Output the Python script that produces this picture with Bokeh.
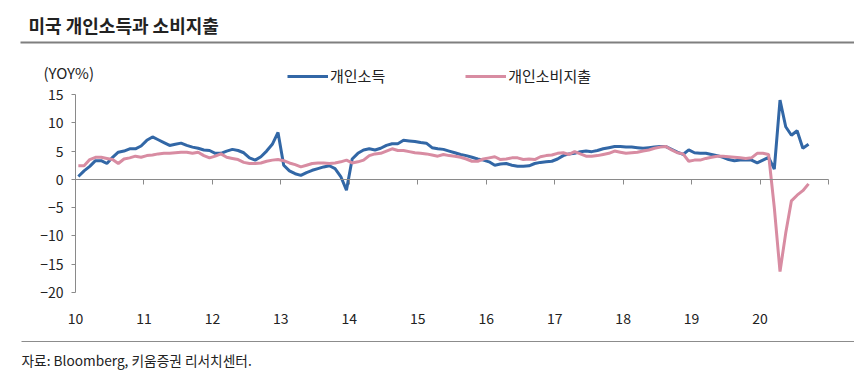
from bokeh.plotting import figure
from bokeh.models import (Range1d, FixedTicker, LinearAxis, Legend, LegendItem,
                          Label, BoxAnnotation)
from bokeh.embed import file_html
from bokeh.resources import INLINE

# ---------------- data (monthly YoY %, Jan 2010 .. Sep 2020) ----------------
start_year = 2010
income = [
    0.5, 1.5, 2.3, 3.3, 3.3, 2.8, 3.9, 4.8, 5.0, 5.4, 5.4, 5.9,      # 2010
    6.9, 7.5, 7.0, 6.5, 6.0, 6.2, 6.4, 6.0, 5.7, 5.5, 5.2, 5.1,      # 2011
    4.6, 4.6, 5.0, 5.3, 5.1, 4.7, 3.8, 3.4, 4.0, 5.0, 6.2, 8.3,      # 2012
    2.5, 1.5, 1.0, 0.7, 1.2, 1.6, 1.9, 2.2, 2.4, 1.9, 0.5, -1.9,     # 2013
    3.6, 4.6, 5.2, 5.4, 5.2, 5.5, 6.0, 6.3, 6.3, 6.9, 6.8, 6.7,      # 2014
    6.5, 6.4, 5.6, 5.4, 5.3, 5.0, 4.7, 4.4, 4.2, 3.9, 3.6, 3.4,      # 2015
    3.1, 2.5, 2.7, 2.8, 2.5, 2.3, 2.3, 2.4, 2.8, 3.0, 3.1, 3.2,      # 2016
    3.6, 4.2, 4.5, 4.6, 4.9, 5.0, 4.9, 5.1, 5.4, 5.6, 5.8, 5.8,      # 2017
    5.7, 5.7, 5.6, 5.5, 5.6, 5.7, 5.8, 5.8, 5.3, 4.8, 4.4, 5.2,      # 2018
    4.7, 4.6, 4.6, 4.4, 4.2, 3.9, 3.5, 3.3, 3.4, 3.4, 3.4, 2.9,      # 2019
    3.4, 3.9, 1.8, 14.0, 9.3, 7.8, 8.6, 5.5, 6.2,                   # 2020
]
spending = [
    2.4, 2.4, 3.5, 3.9, 3.9, 3.7, 3.5, 2.8, 3.6, 3.8, 4.1, 3.9,      # 2010
    4.2, 4.3, 4.5, 4.6, 4.6, 4.7, 4.8, 4.8, 4.6, 4.8, 4.2, 3.8,      # 2011
    4.1, 4.5, 3.9, 3.7, 3.5, 3.0, 2.8, 2.8, 2.9, 3.2, 3.4, 3.5,      # 2012
    3.3, 2.9, 2.6, 2.2, 2.5, 2.8, 2.9, 2.9, 2.8, 2.9, 3.1, 3.4,      # 2013
    2.9, 3.1, 3.4, 4.2, 4.5, 4.6, 5.0, 5.4, 5.1, 5.1, 4.9, 4.7,      # 2014
    4.6, 4.5, 4.3, 4.1, 4.4, 4.2, 4.1, 3.9, 3.6, 3.2, 3.2, 3.6,      # 2015
    3.8, 4.0, 3.5, 3.6, 3.8, 3.8, 3.5, 3.6, 3.5, 4.0, 4.2, 4.3,      # 2016
    4.6, 4.7, 4.4, 4.9, 4.5, 4.1, 4.1, 4.2, 4.4, 4.6, 5.0, 4.8,      # 2017
    4.6, 4.7, 4.8, 5.0, 5.2, 5.5, 5.7, 5.8, 5.2, 4.7, 4.5, 3.2,      # 2018
    3.4, 3.4, 3.7, 3.9, 4.1, 4.1, 4.0, 3.9, 3.8, 3.7, 3.8, 4.6,      # 2019
    4.6, 4.4, -5.0, -16.3, -9.5, -3.8, -2.8, -2.0, -0.8,            # 2020
]
year_ticks = list(range(2010, 2022))
year_labels = ["10", "11", "12", "13", "14", "15", "16", "17", "18", "19", "20", ""]
y_ticks = [-20, -15, -10, -5, 0, 5, 10, 15]
y_labels = ["\u221220", "\u221215", "\u221210", "\u22125", "0", "5", "10", "15"]

series_names = ["개인소득", "개인소비지출"]
title_text = "미국 개인소득과 소비지출"
unit_text = "(YOY%)"
source_text = "자료: Bloomberg, 키움증권 리서치센터."

# month positions (mid-month on a year scale)
xs = [start_year + (k + 0.5) / 12 for k in range(len(income))]

FONT = "Noto Sans CJK KR"
BLUE = "#3267A6"
PINK = "#D88CA2"
AXIS = "#8A8A8A"
TXT = "#222222"

W, H = 854, 384
# plot area in canvas pixels: x 2010 -> 75, 2021 -> 828 ; y 15 -> 94, -20 -> 292
PX_L, PX_R, PY_T, PY_B = 75, 828, 94, 292
X0, X1, Y0, Y1 = 2010, 2021, -20, 15
sx = (PX_R - PX_L) / (X1 - X0)
sy = (PY_B - PY_T) / (Y1 - Y0)
x_range = Range1d(X0 - PX_L / sx, X1 + (W - PX_R) / sx)
y_range = Range1d(Y0 - (H - PY_B) / sy, Y1 + PY_T / sy)

p = figure(width=W, height=H, output_backend="svg", toolbar_location=None,
           x_range=x_range, y_range=y_range,
           x_axis_location=None, y_axis_location=None, min_border=0)
p.outline_line_color = None
p.grid.visible = False
p.background_fill_color = "white"
p.border_fill_color = "white"

# y axis
ya = LinearAxis(ticker=FixedTicker(ticks=y_ticks), fixed_location=X0, bounds=(Y0, Y1),
                major_label_overrides={t: l for t, l in zip(y_ticks, y_labels)})
ya.axis_line_color = AXIS
ya.major_tick_line_color = AXIS
ya.major_tick_in = 0
ya.major_tick_out = 4
ya.minor_tick_line_color = None
ya.major_label_standoff = 8
ya.major_label_text_font = FONT
ya.major_label_text_font_size = "14px"
ya.major_label_text_color = TXT
p.add_layout(ya, "left")

# zero line axis with ticks
xz = LinearAxis(ticker=FixedTicker(ticks=year_ticks), fixed_location=0, bounds=(X0, X1),
                major_label_overrides={t: "" for t in year_ticks})
xz.axis_line_color = AXIS
xz.major_tick_line_color = AXIS
xz.major_tick_in = 0
xz.major_tick_out = 5
xz.minor_tick_line_color = None
xz.major_label_text_font_size = "1px"
p.add_layout(xz, "below")

# label axis at the bottom of the plot area
xl = LinearAxis(ticker=FixedTicker(ticks=year_ticks), fixed_location=Y0, bounds=(X0, X1),
                major_label_overrides={t: l for t, l in zip(year_ticks, year_labels)})
xl.axis_line_color = None
xl.major_tick_line_color = None
xl.minor_tick_line_color = None
xl.major_label_standoff = 14
xl.major_label_text_font = FONT
xl.major_label_text_font_size = "14px"
xl.major_label_text_color = TXT
p.add_layout(xl, "below")

r1 = p.line(xs, income, line_color=BLUE, line_width=3)
r2 = p.line(xs, spending, line_color=PINK, line_width=3)

legend = Legend(items=[LegendItem(label=series_names[0], renderers=[r1]),
                       LegendItem(label=series_names[1], renderers=[r2])],
                orientation="horizontal", location=(287, 298),
                glyph_width=41, glyph_height=14, label_standoff=2, spacing=80,
                padding=0, margin=0, border_line_alpha=0, background_fill_alpha=0,
                label_text_font=FONT, label_text_font_size="15px",
                label_text_color=TXT, label_height=15)
p.add_layout(legend, "center")

# texts and rules (screen units from the canvas bottom-left)
p.add_layout(Label(x=28, y=H - 24, x_units="screen", y_units="screen", text=title_text,
                   text_font=FONT, text_font_size="18px", text_font_style="bold",
                   text_color=TXT, text_baseline="middle"))
p.add_layout(Label(x=43, y=H - 72, x_units="screen", y_units="screen", text=unit_text,
                   text_font=FONT, text_font_size="15px", text_color=TXT,
                   text_baseline="middle"))
p.add_layout(Label(x=21, y=H - 359, x_units="screen", y_units="screen", text=source_text,
                   text_font=FONT, text_font_size="13.7px", text_color=TXT,
                   text_baseline="middle"))
p.add_layout(BoxAnnotation(left=20, right=W, bottom=H - 43, top=H - 41,
                           left_units="screen", right_units="screen",
                           bottom_units="screen", top_units="screen",
                           fill_color="#7F7F7F", fill_alpha=1, line_color=None))
p.add_layout(BoxAnnotation(left=21, right=W, bottom=H - 341.5, top=H - 340.5,
                           left_units="screen", right_units="screen",
                           bottom_units="screen", top_units="screen",
                           fill_color="#8C8C8C", fill_alpha=1, line_color=None))

open("out.html", "w").write(file_html(p, INLINE))
